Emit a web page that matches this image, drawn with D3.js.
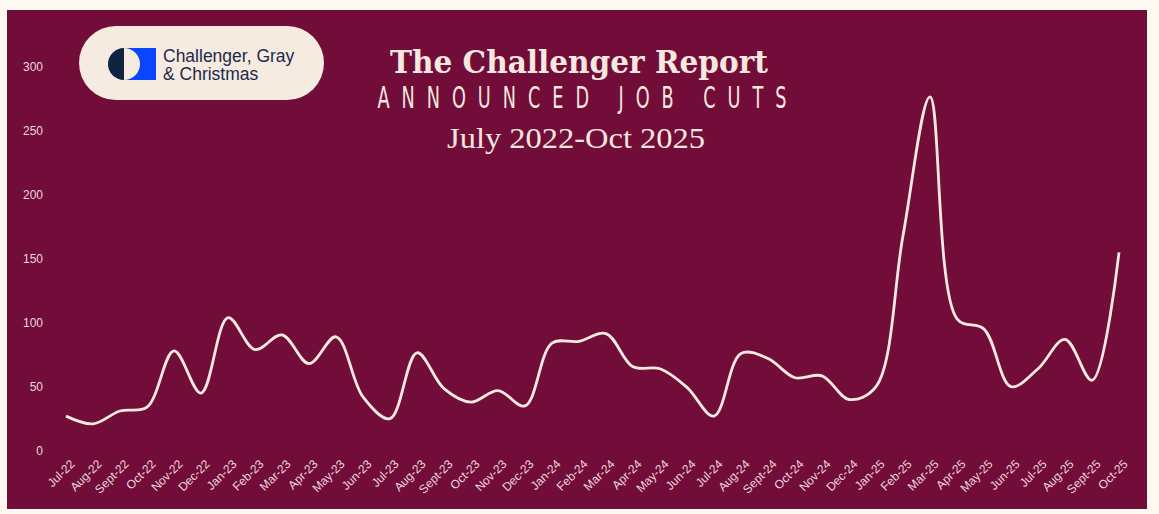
<!DOCTYPE html>
<html>
<head>
<meta charset="utf-8">
<script src="https://cdn.jsdelivr.net/npm/d3@7"></script>
<style>
  html, body { margin: 0; padding: 0; background: #fdf9f0; }
  svg { display: block; }
</style>
</head>
<body>
<svg id="chart" width="1159" height="514"></svg>
<script>
const months = ["Jul-22","Aug-22","Sept-22","Oct-22","Nov-22","Dec-22","Jan-23","Feb-23","Mar-23","Apr-23","May-23","Jun-23","Jul-23","Aug-23","Sept-23","Oct-23","Nov-23","Dec-23","Jan-24","Feb-24","Mar-24","Apr-24","May-24","Jun-24","Jul-24","Aug-24","Sept-24","Oct-24","Nov-24","Dec-24","Jan-25","Feb-25","Mar-25","Apr-25","May-25","Jun-25","Jul-25","Aug-25","Sept-25","Oct-25"];
// announced job cuts, thousands
const jobCuts = [27, 21, 31, 34, 78, 45, 104, 79, 90.5, 68, 89, 42, 25, 76.5, 48.5, 38, 47, 35, 84, 85.5, 91.5, 65.5, 64, 49.5, 27, 76, 72, 57, 58.5, 40, 50, 168, 276.5, 103, 95, 50, 64, 87, 55, 155];
const yTicks = [0, 50, 100, 150, 200, 250, 300];

const svg = d3.select("#chart");

// maroon panel
svg.append("rect").attr("x", 7).attr("y", 10).attr("width", 1140).attr("height", 499).attr("fill", "#720c38");

const x = d3.scalePoint().domain(months).range([66, 1119]);
const y = d3.scaleLinear().domain([0, 300]).range([450.7, 66.7]);

// y axis
const yAxis = svg.append("g").attr("transform", "translate(66,0)")
  .call(d3.axisLeft(y).tickValues(yTicks).tickSize(0).tickPadding(23));
yAxis.select(".domain").remove();
yAxis.selectAll("text").attr("fill", "#ecd8de").attr("font-family", "Liberation Sans, Arial, sans-serif").attr("font-size", 12);

// x axis
const xAxis = svg.append("g").attr("transform", "translate(0,450.7)")
  .call(d3.axisBottom(x).tickSize(0).tickPadding(0));
xAxis.select(".domain").remove();
xAxis.selectAll("text")
  .attr("fill", "#ecd8de").attr("font-family", "Liberation Sans, Arial, sans-serif").attr("font-size", 12)
  .attr("text-anchor", "end")
  .attr("dy", null).attr("y", null)
  .attr("transform", "translate(9,14) rotate(-45)");

// line
const line = d3.line()
  .x((d, i) => x(months[i]))
  .y(d => y(d))
  .curve(d3.curveCatmullRom.alpha(0.5));
svg.append("path").datum(jobCuts)
  .attr("d", line).attr("fill", "none")
  .attr("stroke", "#f8eae0").attr("stroke-width", 2.8)
  .attr("stroke-linejoin", "round").attr("stroke-linecap", "butt");

// logo pill
svg.append("rect").attr("x", 79).attr("y", 26).attr("width", 245).attr("height", 74).attr("rx", 37).attr("fill", "#f5ebe1");
svg.append("rect").attr("x", 124).attr("y", 48).attr("width", 32).attr("height", 32).attr("fill", "#0a46ff");
svg.append("path").attr("d", "M124,48 A16,16 0 0 0 124,80 Z").attr("fill", "#0f2343");
svg.append("path").attr("d", "M124,48 A16,16 0 0 1 124,80 Z").attr("fill", "#f5ebe1");
svg.append("text").attr("x", 163).attr("y", 62).text("Challenger, Gray")
  .attr("font-family", "Liberation Sans, Arial, sans-serif").attr("font-size", 17.5).attr("fill", "#1c2a48");
svg.append("text").attr("x", 163).attr("y", 80).text("& Christmas")
  .attr("font-family", "Liberation Sans, Arial, sans-serif").attr("font-size", 17.5).attr("fill", "#1c2a48");

// titles
svg.append("text").attr("x", 579).attr("y", 72.5).attr("text-anchor", "middle")
  .attr("font-family", "DejaVu Serif, Liberation Serif, serif").attr("font-weight", "bold").attr("font-size", 31)
  .attr("fill", "#f6e8de").attr("textLength", 378).attr("lengthAdjust", "spacingAndGlyphs")
  .text("The Challenger Report");
svg.append("text")
  .attr("transform", "translate(582,108.3) scale(0.6,1)")
  .attr("x", 0).attr("y", 0).attr("text-anchor", "middle")
  .attr("font-family", "DejaVu Sans, sans-serif").attr("font-weight", "normal").attr("font-size", 29.5)
  .attr("fill", "#f6e8de")
  .attr("textLength", 409 / 0.6).attr("lengthAdjust", "spacing")
  .text("ANNOUNCED JOB CUTS");
svg.append("text").attr("x", 576).attr("y", 148).attr("text-anchor", "middle")
  .attr("font-family", "Liberation Serif, serif").attr("font-size", 29)
  .attr("fill", "#f6e8de").attr("textLength", 258).attr("lengthAdjust", "spacingAndGlyphs")
  .text("July 2022-Oct 2025");
</script>
</body>
</html>
